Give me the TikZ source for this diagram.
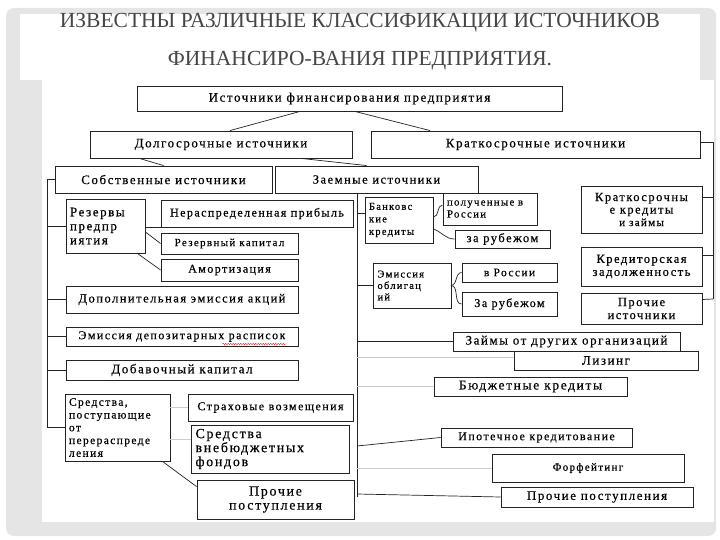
\documentclass[tikz,border=0pt]{standalone}
\usepackage{fontspec}
\setmainfont{Liberation Serif}
\newfontfamily\boxfont[LetterSpace=12, FakeBold=0.4]{Liberation Serif}
\newfontfamily\titlefont{Liberation Serif}
\definecolor{framegray}{RGB}{229,229,229}
\definecolor{titlegray}{RGB}{70,70,70}
\definecolor{boxline}{RGB}{35,35,35}
\definecolor{faintline}{RGB}{205,205,205}
\usetikzlibrary{positioning,calc,decorations.pathmorphing}

\begin{document}
\begin{tikzpicture}[x=1pt, y=-1pt,
  fs/.style 2 args={font=\boxfont\fontsize{#1}{#2}\selectfont},
  every node/.style={fs={13}{14}},
  ttl/.style={font=\titlefont\fontsize{21.5}{23}\selectfont, text=titlegray},
  bx/.style={draw=boxline, line width=0.9pt, fill=white, inner sep=2pt, align=center},
  bxl/.style={bx, align=left, inner xsep=4pt, text width=#1},
  ln/.style={draw=boxline, line width=0.7pt},
  fl/.style={draw=faintline, line width=0.7pt}]
\useasboundingbox (0,0) rectangle (720,540);
% slide frame
\fill[framegray, rounded corners=8pt] (6,8) rectangle (716,536);
\fill[white] (20,14) rectangle (700,80);
\fill[white] (42,80) rectangle (714,522);
% title
\node[ttl] (ttl1) at (360,23) {ИЗВЕСТНЫ РАЗЛИЧНЫЕ КЛАССИФИКАЦИИ ИСТОЧНИКОВ};
\node[ttl] (ttl2) at (360,61) {ФИНАНСИРО-ВАНИЯ ПРЕДПРИЯТИЯ.};

% top levels
\node[bx, minimum width=425, minimum height=25] (src) at (349.5,98.5) {Источники финансирования предприятия};
\node[bx, minimum width=262, minimum height=27] (dolg) at (221,144.5) {Долгосрочные источники};
\node[bx, minimum width=329, minimum height=27] (krat) at (535.5,144.5) {Краткосрочные источники};
\node[bx, minimum width=217, minimum height=27] (sobst) at (163.5,179.5) {Собственные источники};
\node[bx, fs={12.5}{13}, minimum width=203, minimum height=27] (zaem) at (376.5,179.5) {Заемные источники};

% own sources
\node[bxl=71, minimum height=54] (rez) at (105.5,226) {Резервы\\предпр\\иятия};
\node[bx, fs={12}{13}, minimum width=192, minimum height=27] (nerasp) at (257,213.5) {Нераспределенная прибыль};
\node[bx, fs={11}{12}, minimum width=137, minimum height=21] (rezkap) at (229.5,243.5) {Резервный капитал};
\node[bx, fs={12}{13}, minimum width=137, minimum height=22] (amort) at (229.5,270) {Амортизация};
\node[bx, fs={12.5}{13}, minimum width=232, minimum height=27] (dopem) at (182,299.5) {Дополнительная эмиссия акций};
\node[bx, fs={12}{13}, minimum width=232, minimum height=19] (depoz) at (182,336.5) {Эмиссия депозитарных расписок};
\node[bx, minimum width=232, minimum height=20] (dobav) at (182,370) {Добавочный капитал};
\node[bxl=97, fs={11.5}{12.75}, minimum height=67] (sredstva) at (117.5,427.5) {Средства,\\поступающие\\от\\перераспреде\\ления};
\node[bx, fs={12}{13}, minimum width=165, minimum height=27] (strah) at (270.5,407.5) {Страховые возмещения};
\node[bxl=150, fs={14}{14}, minimum height=48] (vnebud) at (270.5,449) {Средства\\внебюджетных\\фондов};
\node[bx, fs={14}{14}, minimum width=157, minimum height=39] (prochL) at (275.5,499.5) {Прочие\\поступления};

% borrowed sources
\node[bxl=60, fs={10.5}{12.5}, minimum height=46] (bank) at (399,220) {Банковс\\кие\\кредиты};
\node[bxl=86, fs={10.8}{12}, minimum height=32] (polRus) at (490,209) {полученные в\\России};
\node[bx, fs={12.5}{13}, minimum width=95, minimum height=18] (zarub1) at (502.5,239) {за рубежом};
\node[bxl=70, fs={10.5}{11.5}, minimum height=45] (emobl) at (412.5,285.5) {Эмиссия\\облигац\\ий};
\node[bx, fs={11.5}{12}, minimum width=95, minimum height=19] (vRus) at (509.5,272.5) {в России};
\node[bx, fs={12}{13}, minimum width=95, minimum height=24] (zarub2) at (509.5,304) {За рубежом};
\node[bx, minimum width=227, minimum height=19] (zaimy) at (566.5,341.5) {Займы от других организаций};
\node[bx, minimum width=184, minimum height=19] (lizing) at (606,360.5) {Лизинг};
\node[bx, fs={13.5}{14}, minimum width=193, minimum height=19] (budzh) at (530.5,386.5) {Бюджетные кредиты};
\node[bx, fs={12}{13}, minimum width=191, minimum height=19] (ipot) at (536.5,437.5) {Ипотечное кредитование};
\node[bx, fs={11}{12}, minimum width=192, minimum height=28] (forf) at (588,468) {Форфейтинг};
\node[bx, minimum width=192, minimum height=20] (prochR) at (597,497) {Прочие поступления};

% short-term sources
\node[bx, fs={12.5}{12.5}, minimum width=121, minimum height=47] (kratkred) at (641.5,209.5) {Краткосрочны\\е кредиты\\{\fontsize{11}{12}\selectfont и займы}};
\node[bx, fs={12.5}{13}, minimum width=121, minimum height=39] (kreditor) at (641.5,266.5) {Кредиторская\\задолженность};
\node[bx, fs={12.5}{13}, minimum width=121, minimum height=31] (prochist) at (641.5,308.5) {Прочие\\источники};

% connectors from the top
\draw[ln] ([xshift=-49.5pt]src.south) -- ([xshift=9pt]dolg.north);
\draw[ln] ([xshift=5.5pt]src.south) -- ([xshift=-105.5pt]krat.north);
\draw[ln] ([xshift=50pt]dolg.south west) -- (sobst.north);
\draw[ln] ([xshift=-51pt]dolg.south east) -- ([xshift=-10pt]zaem.north);

% left bracket
\coordinate (lb1) at (47,179.5);
\coordinate (lb2) at (47,427.5);
\draw[ln] (lb1) -- (lb2);
\foreach \n in {sobst,rez,dopem,depoz,dobav,sredstva}
  \draw[ln] (\n.west) -- (\n.west -| lb1);
\draw[ln] ([yshift=-1pt]rez.east) -- ([yshift=-1pt]rez.east -| nerasp.west);
\draw[ln] ([yshift=-6pt]rez.east) -- (rezkap.west);
\draw[ln] ([xshift=-8pt]rez.south east) -- (amort.west);
\draw[fl] ([yshift=20pt]sredstva.east) -- ([yshift=20pt]sredstva.east -| strah.west);
\draw[fl] ([yshift=-12pt]sredstva.east) -- ([yshift=-12pt]sredstva.east -| vnebud.west);
\draw[ln] ([xshift=-8pt]sredstva.south east) -- ([yshift=-7pt]prochL.north west);

% borrowed bracket
\coordinate (zb1) at (357,193);
\coordinate (zb2) at (357,497);
\draw[ln] (zb1) -- (zb2);
\draw[ln] ([yshift=7pt]bank.west) -- ([yshift=7pt]bank.west -| zb1);
\draw[ln] (emobl.west) -- (emobl.west -| zb1);
\draw[ln] (zaimy.west) -- (zaimy.west -| zb1);
\draw[fl] ([yshift=3pt]lizing.west) -- ([yshift=3pt]lizing.west -| zb1);
\draw[fl] (budzh.west) -- (budzh.west -| zb1);
\draw[ln] (ipot.west) -- (357,446);
\draw[fl] (forf.west) -- (forf.west -| zb1);
\draw[ln] (prochR.west) -- (357,494);
\draw[ln] ([yshift=3pt]bank.east) to[out=0, in=180] ([yshift=4pt]polRus.west);
\draw[ln] ([yshift=-9pt]bank.east) to[out=-20, in=180] (zarub1.west);
\draw[ln] ([xshift=-1pt]emobl.east) to[out=0, in=180] (vRus.west);
\draw[ln] ([xshift=-1pt]emobl.east) to[out=0, in=180] (zarub2.west);

% short-term bracket
\coordinate (kb1) at (713,142);
\coordinate (kb2) at (713,299);
\draw[ln] ([yshift=2.5pt]krat.east) -- (kb1) -- (kb2);
\draw[ln] ([yshift=12pt]kratkred.east) -- ([yshift=12pt]kratkred.east -| kb1);
\draw[ln] ([yshift=11pt]kreditor.east) -- ([yshift=11pt]kreditor.east -| kb1);
\draw[ln] ([yshift=9pt]prochist.east) -- (kb2);

% spell-check mark
\draw[red, line width=0.4pt, decorate, decoration={snake, amplitude=0.6pt, segment length=2.5pt}]
  ([xshift=-76pt, yshift=2.5pt]depoz.south east) -- ([xshift=-12pt, yshift=2.5pt]depoz.south east);
\end{tikzpicture}
\end{document}
